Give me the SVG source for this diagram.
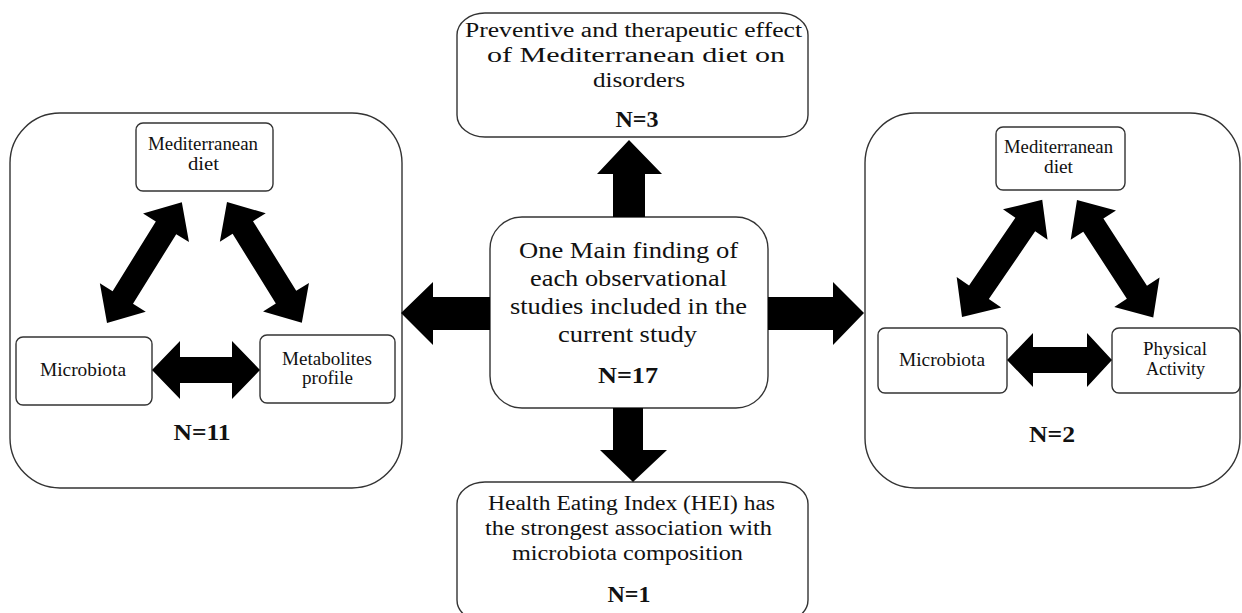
<svg xmlns="http://www.w3.org/2000/svg" width="1242" height="613" viewBox="0 0 1242 613">
<style>
  .big { fill: #fff; stroke: #333; stroke-width: 1.4; }
  .box { fill: #fff; stroke: #333; stroke-width: 1.4; }
  .t { font-family: "Liberation Serif", "Times New Roman", serif; fill: #111; text-anchor: middle; }
  .t17 { font-size: 18px; }
  .t20 { font-size: 20px; }
  .t24 { font-size: 24px; }
  .b { font-weight: bold; }
  .arrow { fill: #000; }
</style>
<rect width="1242" height="613" fill="#fff"/>

<g id="left-group">
  <rect class="big" x="10" y="113" width="392" height="375" rx="50" ry="50"/>
  <text class="t b t24" x="202" y="440" textLength="57" lengthAdjust="spacingAndGlyphs">N=11</text>
</g>
<g id="left-med-diet">
  <rect class="box" x="136" y="123" width="137" height="68" rx="7"/>
  <text class="t t17" x="203" y="150" textLength="110" lengthAdjust="spacingAndGlyphs">Mediterranean</text>
  <text class="t t17" x="203.5" y="170" textLength="31" lengthAdjust="spacingAndGlyphs">diet</text>
</g>
<g id="left-microbiota">
  <rect class="box" x="16" y="337" width="136" height="68" rx="7"/>
  <text class="t t17" x="83" y="376" textLength="86" lengthAdjust="spacingAndGlyphs">Microbiota</text>
</g>
<g id="left-metabolites">
  <rect class="box" x="260" y="335" width="135" height="68" rx="7"/>
  <text class="t t17" x="327" y="365" textLength="90" lengthAdjust="spacingAndGlyphs">Metabolites</text>
  <text class="t t17" x="327.5" y="384" textLength="51" lengthAdjust="spacingAndGlyphs">profile</text>
</g>

<g id="right-group">
  <rect class="big" x="865" y="113" width="375" height="375" rx="50" ry="50"/>
  <text class="t b t24" x="1052" y="442" textLength="46" lengthAdjust="spacingAndGlyphs">N=2</text>
</g>
<g id="right-med-diet">
  <rect class="box" x="996" y="127" width="129" height="63" rx="7"/>
  <text class="t t17" x="1058.5" y="153" textLength="109" lengthAdjust="spacingAndGlyphs">Mediterranean</text>
  <text class="t t17" x="1058.5" y="173" textLength="29" lengthAdjust="spacingAndGlyphs">diet</text>
</g>
<g id="right-microbiota">
  <rect class="box" x="878" y="328" width="129" height="65" rx="7"/>
  <text class="t t17" x="942" y="366" textLength="86" lengthAdjust="spacingAndGlyphs">Microbiota</text>
</g>
<g id="right-physical">
  <rect class="box" x="1112" y="328" width="128" height="65" rx="7"/>
  <text class="t t17" x="1175" y="355" textLength="64" lengthAdjust="spacingAndGlyphs">Physical</text>
  <text class="t t17" x="1175.5" y="375" textLength="59" lengthAdjust="spacingAndGlyphs">Activity</text>
</g>

<g id="top-box">
  <rect class="big" x="457" y="13" width="351" height="124" rx="28" ry="22"/>
  <text class="t t20" x="633.5" y="37" textLength="337" lengthAdjust="spacingAndGlyphs">Preventive  and  therapeutic  effect</text>
  <text class="t t20" x="636" y="62" textLength="298" lengthAdjust="spacingAndGlyphs">of Mediterranean  diet on</text>
  <text class="t t20" x="639" y="87" textLength="92" lengthAdjust="spacingAndGlyphs">disorders</text>
  <text class="t b t24" x="637" y="127">N=3</text>
</g>

<g id="center-box">
  <rect class="big" x="490" y="217" width="278" height="191" rx="32" ry="32"/>
  <text class="t t24" x="628.5" y="258" textLength="219" lengthAdjust="spacingAndGlyphs">One Main finding of</text>
  <text class="t t24" x="628.5" y="286" textLength="197" lengthAdjust="spacingAndGlyphs">each observational</text>
  <text class="t t24" x="628.5" y="314" textLength="237" lengthAdjust="spacingAndGlyphs">studies included in the</text>
  <text class="t t24" x="627.5" y="342" textLength="139" lengthAdjust="spacingAndGlyphs">current study</text>
  <text class="t b t24" x="628" y="383" textLength="60" lengthAdjust="spacingAndGlyphs">N=17</text>
</g>

<g id="bottom-box">
  <rect class="big" x="457" y="482" width="351" height="140" rx="28" ry="22"/>
  <text class="t t20" x="631.5" y="510" textLength="287" lengthAdjust="spacingAndGlyphs">Health Eating Index (HEI) has</text>
  <text class="t t20" x="628.5" y="535" textLength="287" lengthAdjust="spacingAndGlyphs">the strongest association with</text>
  <text class="t t20" x="627.5" y="560" textLength="231" lengthAdjust="spacingAndGlyphs">microbiota composition</text>
  <text class="t b t24" x="629" y="602">N=1</text>
</g>

<g id="connectors">
  <polygon class="arrow" points="629,140 662,174 645,174 645,217 613,217 613,174 597,174"/>
  <polygon class="arrow" points="613,408 643,408 643,450 667,450 633,482 600,450 613,450"/>
  <polygon class="arrow" points="490,297 433,297 433,282 401,313 433,345 433,330 490,330"/>
  <polygon class="arrow" points="768,297 833,297 833,282 864,313 833,345 833,330 768,330"/>
  <polygon class="arrow" points="152,370 180,341 180,357 232,357 232,341 260,370 232,399 232,383 180,383 180,399"/>
  <polygon class="arrow" transform="translate(107,323) rotate(-58.2)" points="0,0 30,-27 30,-12 112,-12 112,-27 142,0 112,27 112,12 30,12 30,27"/>
  <polygon class="arrow" transform="translate(227,202) rotate(58.2)" points="0,0 30,-27 30,-12 112,-12 112,-27 142,0 112,27 112,12 30,12 30,27"/>
  <polygon class="arrow" points="1007,360 1033,333 1033,347 1087,347 1087,333 1112,360 1087,387 1087,373 1033,373 1033,387"/>
  <polygon class="arrow" transform="translate(962,317) rotate(-55.6)" points="0,0 30,-27 30,-12 112,-12 112,-27 142,0 112,27 112,12 30,12 30,27"/>
  <polygon class="arrow" transform="translate(1077,200) rotate(57)" points="0,0 30,-27 30,-12 110,-12 110,-27 140,0 110,27 110,12 30,12 30,27"/>
</g>
</svg>
